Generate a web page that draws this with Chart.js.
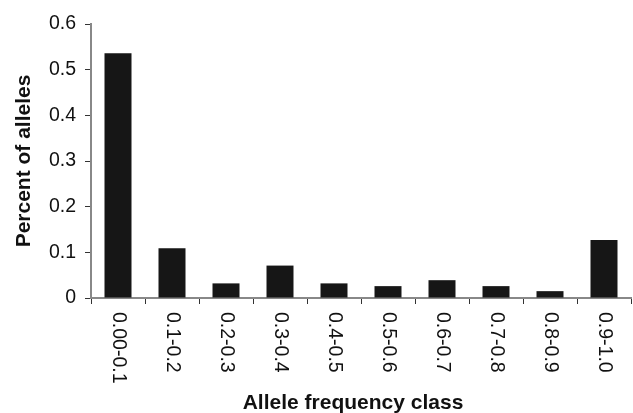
<!DOCTYPE html>
<html>
<head>
<meta charset="utf-8">
<script src="https://cdn.jsdelivr.net/npm/chart.js@4.4.1/dist/chart.umd.min.js"></script>
<style>
  html, body { margin: 0; padding: 0; background: #fff; }
  canvas { display: block; }
</style>
</head>
<body>
<canvas id="chartAlleles" width="633" height="413"></canvas>
<script>
const categorias = ['0.00-0.1', '0.1-0.2', '0.2-0.3', '0.3-0.4', '0.4-0.5', '0.5-0.6', '0.6-0.7', '0.7-0.8', '0.8-0.9', '0.9-1.0'];
const porcentajes = [0.536, 0.109, 0.032, 0.071, 0.032, 0.026, 0.039, 0.026, 0.015, 0.127];
const yTickLabels = ['0', '0.1', '0.2', '0.3', '0.4', '0.5', '0.6'];
const xTitulo = 'Allele frequency class';
const yTitulo = 'Percent of alleles';

const FONT = 'Liberation Sans, Arial, Helvetica, sans-serif';

// etiquetas del eje x giradas en sentido horario + titulo del eje x
const etiquetasX = {
    id: 'etiquetasX',
    afterDraw(chart) {
        const ctx = chart.ctx;
        const x = chart.scales.x;
        ctx.save();
        ctx.fillStyle = '#111';
        ctx.font = '19.5px ' + FONT;
        ctx.textAlign = 'left';
        ctx.textBaseline = 'middle';
        categorias.forEach((lab, i) => {
            ctx.save();
            ctx.translate(x.getPixelForTick(i), 312);
            ctx.rotate(Math.PI / 2);
            ctx.fillText(lab, 0, 0);
            ctx.restore();
        });
        ctx.font = 'bold 21px ' + FONT;
        ctx.textAlign = 'center';
        ctx.textBaseline = 'alphabetic';
        ctx.fillText(xTitulo, 353, 409);
        ctx.restore();
    }
};

new Chart(document.getElementById('chartAlleles'), {
    type: 'bar',
    data: {
        labels: categorias,
        datasets: [{
            data: porcentajes,
            backgroundColor: '#161616',
            borderWidth: 0,
            categoryPercentage: 1,
            barPercentage: 0.5
        }]
    },
    options: {
        responsive: false,
        devicePixelRatio: 1,
        animation: false,
        layout: { padding: { top: 24, right: 2, bottom: 0, left: 0 } },
        plugins: { legend: { display: false }, tooltip: { enabled: false } },
        scales: {
            x: {
                offset: true,
                grid: { offset: true, drawOnChartArea: false, drawTicks: true, tickLength: 6, tickColor: '#333', tickWidth: 1 },
                border: { color: '#888', width: 2 },
                ticks: { display: false },
                afterFit: s => { s.height = 115; }
            },
            y: {
                min: 0, max: 0.6,
                ticks: {
                    stepSize: 0.1,
                    padding: 9,
                    color: '#111',
                    font: { family: FONT, size: 19.5 },
                    callback: (v, i) => yTickLabels[i]
                },
                grid: { drawOnChartArea: false, drawTicks: true, tickLength: 6, tickColor: '#333', tickWidth: 1 },
                border: { color: '#888', width: 2 },
                title: {
                    display: true,
                    text: yTitulo,
                    color: '#111',
                    font: { family: FONT, size: 21, weight: 'bold' },
                    padding: { top: 12, bottom: 0 }
                },
                afterFit: s => { s.width = 91; }
            }
        }
    },
    plugins: [etiquetasX]
});
</script>
</body>
</html>
